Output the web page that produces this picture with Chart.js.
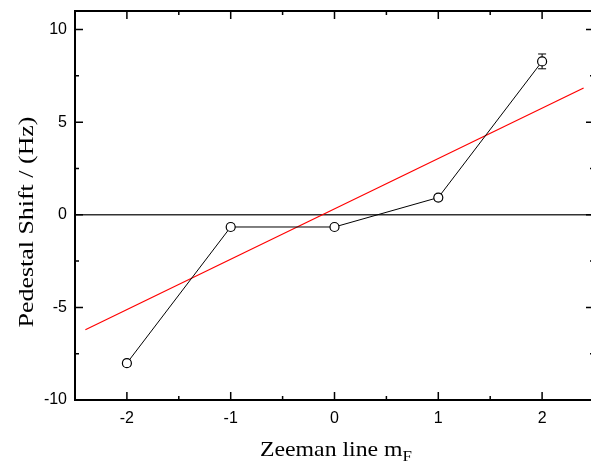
<!DOCTYPE html>
<html>
<head>
<meta charset="utf-8">
<script src="https://cdn.jsdelivr.net/npm/chart.js@4/dist/chart.umd.min.js"></script>
<style>
  html, body { margin: 0; padding: 0; background: #fff; overflow: hidden; }
  #wrap { position: relative; width: 591px; height: 463px; overflow: hidden; }
  #box { position: absolute; left: 0; top: 0; width: 600px; height: 463px; }
</style>
</head>
<body>
<div id="wrap"><div id="box"><canvas id="c"></canvas></div></div>
<script>
// Zeeman lines and measured pedestal shift (Hz)
const lines  = [-2, -1, 0, 1, 2];
const shift  = [-8.01, -0.66, -0.66, 0.93, 8.28];
const errs   = [0.15, 0.15, 0.12, 0.15, 0.4];

// linear fit (red), drawn between its two end points
const fitX = [-2.4, 2.4];
const fitY = [-6.21, 6.84];

// zero reference
const zeroX = [-2.5, 2.5];
const zeroY = [0, 0];

const xTicks = [-2, -1, 0, 1, 2];
const yTicks = [-10, -5, 0, 5, 10];
const xMinor = [-2.5, -1.5, -0.5, 0.5, 1.5, 2.5];
const yMinor = [-7.5, -2.5, 2.5, 7.5];

const xLabel = ['Zeeman line m', 'F'];
const yLabel = 'Pedestal Shift / (Hz)';

const pts = (xs, ys) => xs.map((x, i) => ({ x, y: ys[i] }));
const SERIF = '"Liberation Serif", "Times New Roman", serif';

// frame with inward ticks on all four sides
const frame = {
    id: 'frame',
    afterDatasetsDraw(chart) {
        const { ctx, chartArea: a, scales: { x, y } } = chart;
        ctx.save();
        ctx.strokeStyle = '#000';
        ctx.lineWidth = 1.5;
        ctx.beginPath();
        const tick = (px, len, horiz) => {
            if (horiz) {
                ctx.moveTo(px, a.bottom); ctx.lineTo(px, a.bottom - len);
                ctx.moveTo(px, a.top);    ctx.lineTo(px, a.top + len);
            } else {
                ctx.moveTo(a.left, px);  ctx.lineTo(a.left + len, px);
                ctx.moveTo(a.right, px); ctx.lineTo(a.right - len, px);
            }
        };
        xTicks.forEach(v => tick(x.getPixelForValue(v), 8, true));
        xMinor.forEach(v => tick(x.getPixelForValue(v), 4, true));
        yTicks.forEach(v => tick(y.getPixelForValue(v), 8, false));
        yMinor.forEach(v => tick(y.getPixelForValue(v), 4, false));
        ctx.stroke();
        ctx.lineWidth = 2;
        ctx.strokeRect(a.left, a.top, a.right - a.left, a.bottom - a.top);
        ctx.restore();
    }
};

// vertical error bars with caps
const errorBars = {
    id: 'errorBars',
    beforeDatasetsDraw(chart) {
        const { ctx, scales: { x, y } } = chart;
        ctx.save();
        ctx.strokeStyle = '#000';
        ctx.lineWidth = 1;
        ctx.beginPath();
        lines.forEach((v, i) => {
            const px = x.getPixelForValue(v);
            const hi = y.getPixelForValue(shift[i] + errs[i]);
            const lo = y.getPixelForValue(shift[i] - errs[i]);
            ctx.moveTo(px, hi); ctx.lineTo(px, lo);
            ctx.moveTo(px - 4, hi); ctx.lineTo(px + 4, hi);
            ctx.moveTo(px - 4, lo); ctx.lineTo(px + 4, lo);
        });
        ctx.stroke();
        ctx.restore();
    }
};

// axis titles (serif, slightly stretched like the original export)
const titles = {
    id: 'titles',
    afterDraw(chart) {
        const { ctx } = chart;
        ctx.save();
        ctx.fillStyle = '#000';
        ctx.textBaseline = 'alphabetic';

        // x title with subscript
        ctx.font = '21px ' + SERIF;
        const w1 = ctx.measureText(xLabel[0]).width;
        ctx.font = '15px ' + SERIF;
        const w2 = ctx.measureText(xLabel[1]).width;
        const sx = 152 / (w1 + w2);
        ctx.save();
        ctx.translate(336 - 76, 456);
        ctx.scale(sx, 1);
        ctx.font = '21px ' + SERIF;
        ctx.fillText(xLabel[0], 0, 0);
        ctx.font = '15px ' + SERIF;
        ctx.fillText(xLabel[1], w1, 5);
        ctx.restore();

        // y title, rotated
        ctx.font = '21px ' + SERIF;
        const wy = ctx.measureText(yLabel).width;
        const sy = 211 / wy;
        ctx.save();
        ctx.translate(33, 222);
        ctx.rotate(-Math.PI / 2);
        ctx.scale(sy, 1);
        ctx.textAlign = 'center';
        ctx.fillText(yLabel, 0, 0);
        ctx.restore();
        ctx.restore();
    }
};

new Chart(document.getElementById('c'), {
    type: 'line',
    data: {
        datasets: [
            { data: pts(zeroX, zeroY), borderColor: '#333', borderWidth: 1.5, pointRadius: 0, order: 3 },
            { data: pts(fitX, fitY), borderColor: '#ff0000', borderWidth: 1.2, pointRadius: 0, order: 2 },
            { data: pts(lines, shift), borderColor: '#000', borderWidth: 1, pointRadius: 4.5,
              pointBackgroundColor: '#fff', pointBorderColor: '#000', pointBorderWidth: 1.2, order: 1 }
        ]
    },
    options: {
        responsive: true,
        maintainAspectRatio: false,
        animation: false,
        layout: { padding: { top: 11, right: 6, left: 0, bottom: 0 } },
        plugins: { legend: { display: false }, tooltip: { enabled: false } },
        scales: {
            x: {
                type: 'linear', min: -2.5, max: 2.5,
                afterBuildTicks: s => { s.ticks = xTicks.map(v => ({ value: v })); },
                afterFit: s => { s.height = 63; s.paddingLeft = 0; s.paddingRight = 0; },
                ticks: { color: '#000', font: { family: '"Liberation Sans", Arial', size: 16 }, padding: 9 },
                grid: { display: false, drawTicks: false },
                border: { display: false }
            },
            y: {
                min: -10, max: 11,
                afterBuildTicks: s => { s.ticks = yTicks.map(v => ({ value: v })); },
                afterFit: s => { s.width = 75; s.paddingTop = 0; s.paddingBottom = 0; },
                ticks: { color: '#000', font: { family: '"Liberation Sans", Arial', size: 16 }, padding: 8 },
                grid: { display: false, drawTicks: false },
                border: { display: false }
            }
        }
    },
    plugins: [errorBars, frame, titles]
});
</script>
</body>
</html>
